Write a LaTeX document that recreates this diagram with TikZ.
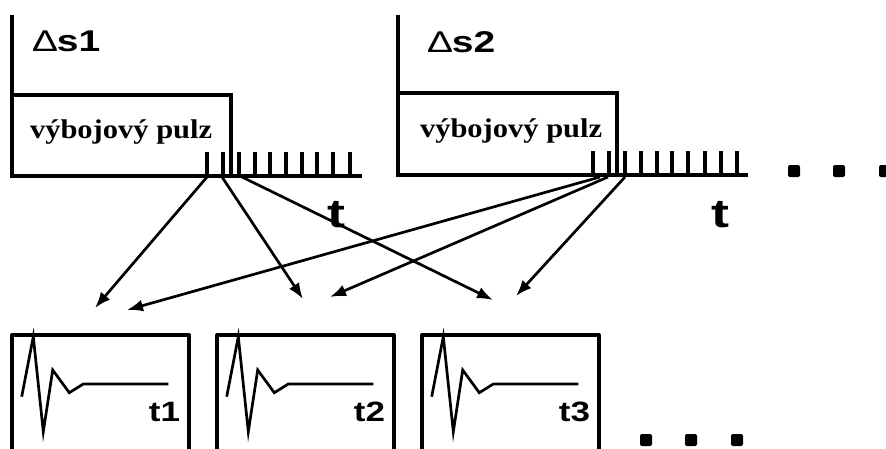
\documentclass[tikz,border=0pt]{standalone}
\usepackage{fontspec}
\setmainfont{Liberation Serif}
\newfontfamily\sansfam{Liberation Sans}
\usetikzlibrary{arrows.meta}
\tikzset{
  axisline/.style={line width=4pt, line cap=butt, line join=miter},
  tickline/.style={line width=3.2pt, line cap=butt},
  conn/.style={line width=2.7pt, -{Latex[length=16pt,width=12pt]}},
  scopebox/.style={line width=4pt, line join=round},
  wave/.style={line width=2.7pt, line join=miter, miter limit=20},
  dotsq/.style={fill=black, rounded corners=2pt},
  lbl/.style={inner sep=0pt, outer sep=0pt},
}
\newcommand{\sfbig}[3]{\scalebox{#3}[1]{\fontsize{#1}{#1}\selectfont\sansfam\bfseries #2}}
\newcommand{\pulztext}{\scalebox{1.13}[1]{\fontsize{27}{28}\selectfont\bfseries výbojový pulz}}
\begin{document}
\begin{tikzpicture}[x=1pt,y=-1pt]
\useasboundingbox (0,0) rectangle (886,448);
\clip (0,0) rectangle (886,448);
% ---------- panel 1 ----------
\draw[axisline] (12,15) -- (12,176) -- (362,176);
\draw[axisline] (12,95) -- (231,95) -- (231,176);
\foreach \x in {207,223,239,255,270,286,302,317,333,350}
  \draw[tickline] (\x,152) -- (\x,176);
\node[lbl, anchor=base west] (ds1) at (33,51) {\scalebox{1.3}[1]{\fontsize{30}{30}\selectfont\sansfam ∆\bfseries s1}};
\node[lbl, anchor=base west] (p1) at (30,138) {\pulztext};
\node[lbl, anchor=base] (t1axis) at (336,227) {\sfbig{40}{t}{1.35}};
% ---------- panel 2 ----------
\draw[axisline] (398,15) -- (398,175) -- (748,175);
\draw[axisline] (398,93) -- (617,93) -- (617,175);
\foreach \x in {593,609,625,641,657,672,688,705,721,737}
  \draw[tickline] (\x,151) -- (\x,175);
\node[lbl, anchor=base west] (ds2) at (428,52) {\scalebox{1.3}[1]{\fontsize{30}{30}\selectfont\sansfam ∆\bfseries s2}};
\node[lbl, anchor=base west] (p2) at (420,137) {\pulztext};
\node[lbl, anchor=base] (t2axis) at (720,227) {\sfbig{40}{t}{1.35}};
% top dots
\foreach \x [count=\i] in {794,839,885}
  \node[dotsq, minimum size=12pt, inner sep=0pt] (td\i) at (\x,171) {};
% ---------- bottom scopes ----------
\foreach \xo/\lab [count=\i] in {10/t1,215/t2,420/t3}{
  \draw[scopebox] (\xo+2,460) -- (\xo+2,335) -- (\xo+179,335) -- (\xo+179,460);
  \draw[wave] (\xo+11.7,396.7) -- (\xo+23.3,336.7) -- (\xo+33.3,431.7) -- (\xo+42.7,370)
     -- (\xo+59.3,392.7) -- (\xo+73.3,384) -- (\xo+158.3,384);
  \node[lbl, anchor=base east] (lab\i) at (\xo+170,421) {\sfbig{28}{\lab}{1.25}};
}
% bottom dots
\foreach \x [count=\i] in {646,691,737}
  \node[dotsq, minimum size=12pt, inner sep=0pt] (bd\i) at (\x,440) {};
% ---------- connectors ----------
\coordinate (s1a) at (207,177);
\coordinate (s1b) at (222,177);
\coordinate (s1c) at (242,177);
\coordinate (s2a) at (600,177);
\coordinate (s2b) at (608,177);
\coordinate (s2c) at (625,177);
\coordinate (e1a) at (95,308);
\coordinate (e1b) at (127,310);
\coordinate (e2a) at (303,299);
\coordinate (e2b) at (330,297);
\coordinate (e3a) at (493,300);
\coordinate (e3b) at (516,296);
\draw[conn] (s1a) -- (e1a);
\draw[conn] (s1b) -- (e2a);
\draw[conn] (s1c) -- (e3a);
\draw[conn] (s2a) -- (e1b);
\draw[conn] (s2b) -- (e2b);
\draw[conn] (s2c) -- (e3b);
\end{tikzpicture}
\end{document}
